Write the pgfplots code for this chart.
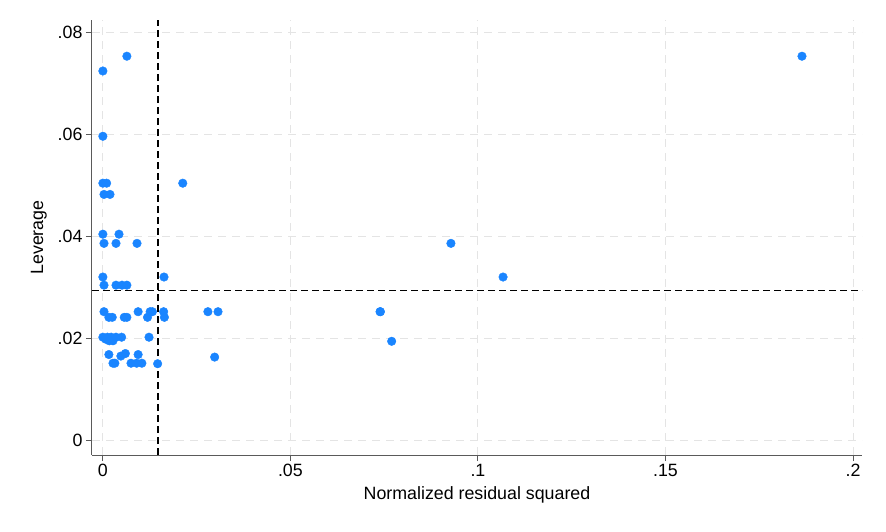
\documentclass[border=0pt]{standalone}
\usepackage{fontspec}
\setmainfont{Liberation Sans}
\usepackage{pgfplots}
\pgfplotsset{compat=1.18}
\definecolor{stblue}{RGB}{26,133,255}
\definecolor{gridgray}{RGB}{228,228,228}
\definecolor{axgray}{RGB}{90,90,90}
\begin{document}
\begin{tikzpicture}
\path[use as bounding box] (-92pt,-76pt) rectangle (794pt,455pt);
\begin{axis}[
  at={(0,0)}, anchor=south west,
  scale only axis, width=770pt, height=435pt,
  xmin=-0.0029, xmax=0.2024, ymin=-0.0029, ymax=0.0824,
  axis lines=left, axis line style={axgray, line width=1pt, -},
  scaled x ticks=false, scaled y ticks=false,
  xtick={0,0.05,0.1,0.15,0.2}, xticklabels={0,.05,.1,.15,.2},
  ytick={0,0.02,0.04,0.06,0.08}, yticklabels={0,.02,.04,.06,.08},
  tick align=outside, major tick length=6pt,
  tick style={axgray, line width=1pt},
  /pgf/number format/assume math mode=true,
  tick label style={font=\fontsize{17.8}{19}\selectfont, black},
  label style={font=\fontsize{17.8}{19}\selectfont, black},
  xlabel={Normalized residual squared},
  ylabel={Leverage},
  xlabel style={yshift=-3pt},
  ylabel style={yshift=4pt},
  grid=major, major grid style={gridgray, dash pattern=on 8pt off 6pt, line width=1pt},
  clip=false,
]
\addplot[black, line width=1.2pt, dash pattern=on 7pt off 4pt] coordinates {(0.0147,-0.0029) (0.0147,0.0824)};
\addplot[black, line width=1.2pt, dash pattern=on 7pt off 4pt] coordinates {(-0.0029,0.0294) (0.2024,0.0294)};
\addplot[only marks, mark=*, mark size=4.3pt, stblue, mark options={fill=stblue, draw=stblue}] table {
x y
0.0064 0.0753
0.0000 0.0724
0.0000 0.0596
0.0000 0.0504
0.0010 0.0504
0.0003 0.0482
0.0019 0.0482
0.0213 0.0504
0.0000 0.0404
0.0043 0.0404
0.0003 0.0386
0.0035 0.0386
0.0091 0.0386
0.0000 0.0320
0.0163 0.0320
0.0003 0.0304
0.0035 0.0304
0.0051 0.0304
0.0064 0.0304
0.0003 0.0252
0.0094 0.0252
0.0126 0.0252
0.0132 0.0252
0.0162 0.0252
0.0280 0.0252
0.0307 0.0252
0.0739 0.0252
0.0740 0.0252
0.0016 0.0241
0.0025 0.0241
0.0057 0.0241
0.0064 0.0241
0.0119 0.0241
0.0164 0.0241
0.0000 0.0202
0.0012 0.0202
0.0022 0.0202
0.0035 0.0202
0.0050 0.0202
0.0123 0.0202
0.0017 0.0195
0.0027 0.0195
0.0008 0.0198
0.0016 0.0168
0.0048 0.0165
0.0060 0.0170
0.0094 0.0168
0.0298 0.0163
0.0027 0.0151
0.0032 0.0151
0.0075 0.0151
0.0090 0.0151
0.0104 0.0151
0.0146 0.0150
0.0770 0.0194
0.0928 0.0386
0.1067 0.0320
0.1864 0.0753
};
\end{axis}
\end{tikzpicture}
\end{document}
